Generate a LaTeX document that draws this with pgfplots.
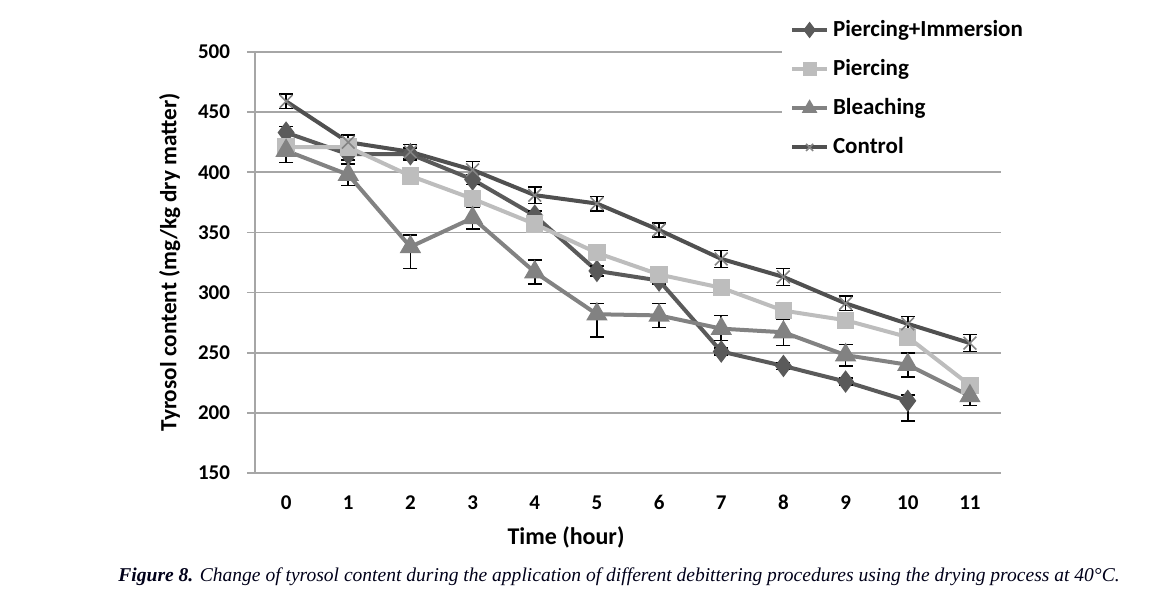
\documentclass[border=0pt]{standalone}
\usepackage{fontspec}
\setmainfont{Liberation Serif}
\newfontfamily\carlito{Carlito}
\usepackage{pgfplots}
\usepackage{pgfplotstable}
\pgfplotsset{compat=1.18}
\definecolor{cPI}{HTML}{5A5A5A}
\definecolor{cP}{HTML}{BDBDBD}
\definecolor{cB}{HTML}{828282}
\definecolor{cC}{HTML}{505050}
\definecolor{gridc}{HTML}{A6A6A6}

\pgfplotstableread{
x y ep em
0 433 5 5
1 415 5 5
2 415 5 5
3 394 4 4
4 364 4 4
5 318 4 4
6 310 3 3
7 251 3 3
8 239 3 3
9 226 3 3
10 210 5 17
}\PI
\pgfplotstableread{
x y ep em
0 421 4 4
1 421 3 3
2 397 4 4
3 378 4 4
4 357 4 4
5 333 4 4
6 315 3 3
7 304 3 3
8 285 4 4
9 277 4 4
10 263 4 4
11 223 4 4
}\PP
\pgfplotstableread{
x y ep em
0 418 10 10
1 398 9 9
2 338 10 18
3 362 9 9
4 317 10 10
5 282 9 19
6 281 10 10
7 270 11 10
8 267 11 11
9 248 9 9
10 240 10 10
11 214 8 8
}\PB
\pgfplotstableread{
x y ep em
0 459 6 6
1 425 6 6
2 417 6 6
3 402 7 7
4 381 7 7
5 374 6 6
6 352 6 6
7 328 7 7
8 313 7 7
9 291 6 6
10 274 6 6
11 258 7 7
}\PC

\begin{document}
\begin{tikzpicture}
\useasboundingbox (-127.5pt,-64pt) rectangle (457.5pt,236.5pt);
\begin{axis}[
  at={(0,0)}, anchor=south west,
  scale only axis, width=373pt, height=210.5pt,
  xmin=-0.5, xmax=11.5, ymin=150, ymax=500,
  xtick={0,...,11},
  minor xtick={-0.5,0.5,...,11.5},
  ytick={150,200,...,500},
  axis x line*=bottom, axis y line*=left,
  axis line style={gridc, line width=0.9pt, -},
  tick align=outside,
  major tick length=4pt,
  minor tick length=4pt,
  x tick style={draw=none},
  minor x tick style={gridc, line width=0.9pt},
  y tick style={gridc, line width=0.9pt},
  ymajorgrids,
  grid style={gridc, line width=0.9pt},
  /pgf/number format/assume math mode=true,
  tick label style={font=\carlito\bfseries\fontsize{10.5}{12}\selectfont, black},
  xticklabel style={anchor=north, text height=7.5pt, text depth=0pt, yshift=-3pt},
  yticklabel style={xshift=-5pt},
  xlabel={\carlito\bfseries\fontsize{12}{14}\selectfont Time (hour)},
  ylabel={\carlito\bfseries\fontsize{11.6}{13}\selectfont Tyrosol content (mg/kg dry matter)},
  xlabel style={yshift=-2pt, xshift=-31pt},
  ylabel style={yshift=2pt},
  legend style={at={(0.706,1.095)}, anchor=north west, draw=none, fill=white,
    font=\carlito\bfseries\fontsize{11.5}{13}\selectfont, row sep=6pt, inner xsep=4pt},
  legend cell align=left,
  legend image code/.code={\draw[#1, mark=none] plot coordinates {(0pt,0pt) (8.75pt,0pt) (17.5pt,0pt)};
    \draw[#1, only marks, mark size=2.5pt] plot coordinates {(8.75pt,0pt)};},
  every axis plot/.append style={line width=2pt},
  error bars/error bar style={black, line width=0.8pt},
  error bars/error mark options={rotate=90, black, mark size=3.5pt, line width=0.8pt},
]
\addplot[cPI, mark=diamond*, mark size=4pt, mark options={solid, fill=cPI},
  error bars/.cd, y dir=both, y explicit]
  table[x=x, y=y, y error plus=ep, y error minus=em]{\PI};
\addlegendentry{Piercing+Immersion}
\addplot[cP, mark=square*, mark size=3.3pt, mark options={solid, fill=cP},
  error bars/.cd, y dir=both, y explicit]
  table[x=x, y=y, y error plus=ep, y error minus=em]{\PP};
\addlegendentry{Piercing}
\addplot[cB, mark=triangle*, mark size=4.2pt, mark options={solid, fill=cB},
  error bars/.cd, y dir=both, y explicit]
  table[x=x, y=y, y error plus=ep, y error minus=em]{\PB};
\addlegendentry{Bleaching}
\addplot[cC, mark=x, mark size=4.5pt, mark options={solid, line width=0.8pt, draw=cC!70},
  error bars/.cd, y dir=both, y explicit]
  table[x=x, y=y, y error plus=ep, y error minus=em]{\PC};
\addlegendentry{Control}
\end{axis}
\node[font=\fontsize{9.77}{12}\selectfont, text=black!90!blue] at (182pt,-52pt)
  {\textbf{\textit{Figure 8.}} \textit{Change of tyrosol content during the application of different debittering procedures using the drying process at 40°C.}};
\end{tikzpicture}
\end{document}
